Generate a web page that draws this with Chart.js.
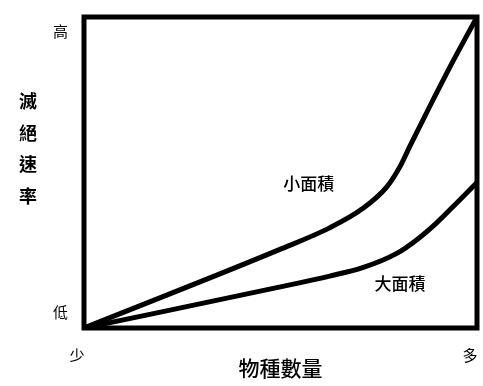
<!DOCTYPE html>
<html>
<head>
<meta charset="utf-8">
<script src="https://cdn.jsdelivr.net/npm/chart.js@4"></script>
<style>
  html, body { margin: 0; padding: 0; background: #fff; }
  #wrap { width: 483px; height: 386px; }
</style>
</head>
<body>
<div id="wrap"><canvas id="chart"></canvas></div>
<script>
// data (0-100 on both axes)
var xTickLabels = ['少', '多'];
var yTickLabels = ['低', '高'];
var xTitle = '物種數量';
var yTitle = ['滅', '絕', '速', '率'];
var seriesNames = ['小面積', '大面積'];

var smallX = [0, 49.7, 62.5, 70.9, 77.0, 80.4, 82.9, 88.0, 93.9, 100];
var smallY = [0, 25.2, 32.2, 38.4, 45.3, 51.9, 58.4, 71.3, 85.8, 100];
var largeX = [0, 54.8, 62.5, 70.9, 79.6, 84.7, 89.8, 94.9, 100];
var largeY = [0, 14.5, 16.7, 19.4, 24.0, 28.4, 33.9, 40.3, 46.8];

function toPoints(xs, ys) {
    return xs.map(function (x, i) { return { x: x, y: ys[i] }; });
}

var font = '"Noto Sans CJK TC", "Noto Sans CJK SC", sans-serif';

// box around the plot + stacked y title + curve labels
var extras = {
    id: 'extras',
    afterDatasetsDraw: function (chart) {
        var c = chart.ctx, a = chart.chartArea;
        c.save();
        c.lineWidth = 5;
        c.strokeStyle = '#000';
        c.strokeRect(a.left, a.top, a.right - a.left, a.bottom - a.top);

        c.fillStyle = '#000';
        c.textAlign = 'center';
        c.textBaseline = 'middle';
        c.font = 'bold 18px ' + font;
        yTitle.forEach(function (ch, i) {
            c.fillText(ch, 28, 101 + i * 31.7);
        });

        var xs = chart.scales.x, ys = chart.scales.y;
        c.font = '500 17px ' + font;
        c.fillText(seriesNames[0], xs.getPixelForValue(57.2), ys.getPixelForValue(46.5));
        c.fillText(seriesNames[1], xs.getPixelForValue(80.4), ys.getPixelForValue(14.2));
        c.restore();
    }
};

new Chart(document.getElementById('chart'), {
    type: 'line',
    data: {
        datasets: [{
            label: seriesNames[0],
            data: toPoints(smallX, smallY),
            borderColor: '#000',
            borderWidth: 5,
            pointRadius: 0,
            cubicInterpolationMode: 'monotone'
        }, {
            label: seriesNames[1],
            data: toPoints(largeX, largeY),
            borderColor: '#000',
            borderWidth: 5,
            pointRadius: 0,
            cubicInterpolationMode: 'monotone'
        }]
    },
    options: {
        responsive: true,
        maintainAspectRatio: false,
        animation: false,
        layout: { padding: { left: 0, top: 17, right: 6, bottom: 0 } },
        plugins: {
            legend: { display: false },
            tooltip: { enabled: false }
        },
        scales: {
            x: {
                type: 'linear',
                min: 0,
                max: 100,
                grid: { display: false, drawTicks: false },
                border: { display: false },
                afterBuildTicks: function (scale) {
                    scale.ticks = [{ value: 0 }, { value: 100 }];
                },
                afterFit: function (scale) {
                    scale.height = 58;
                    scale.paddingLeft = 0;
                    scale.paddingRight = 0;
                },
                ticks: {
                    padding: 18,
                    labelOffset: -7,
                    maxRotation: 0,
                    color: '#000',
                    font: { family: font, size: 15 },
                    callback: function (v) { return v === 0 ? xTickLabels[0] : xTickLabels[1]; }
                },
                title: {
                    display: true,
                    text: xTitle,
                    color: '#000',
                    font: { family: font, size: 21, weight: '500' },
                    padding: { top: 0, bottom: 5 }
                }
            },
            y: {
                min: 0,
                max: 100,
                grid: { display: false, drawTicks: false },
                border: { display: false },
                afterBuildTicks: function (scale) {
                    scale.ticks = [{ value: 5 }, { value: 95.5 }];
                },
                afterFit: function (scale) {
                    scale.width = 84;
                    scale.paddingTop = 0;
                    scale.paddingBottom = 0;
                },
                ticks: {
                    padding: 16,
                    color: '#000',
                    font: { family: font, size: 15 },
                    callback: function (v) { return v < 50 ? yTickLabels[0] : yTickLabels[1]; }
                }
            }
        }
    },
    plugins: [extras]
});
</script>
</body>
</html>
